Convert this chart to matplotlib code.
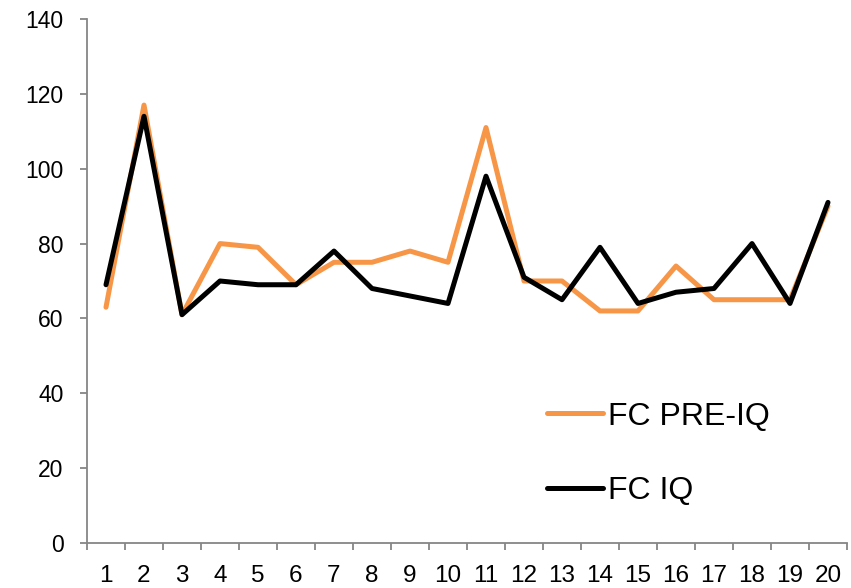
import matplotlib
matplotlib.use("Agg")
import matplotlib.pyplot as plt

plt.rcParams['font.family'] = ['Liberation Sans', 'DejaVu Sans']

categories = [str(i) for i in range(1, 21)]
fc_pre_iq = [63, 117, 61, 80, 79, 69, 75, 75, 78, 75, 111, 70, 70, 62, 62, 74, 65, 65, 65, 90]
fc_iq = [69, 114, 61, 70, 69, 69, 78, 68, 66, 64, 98, 71, 65, 79, 64, 67, 68, 80, 64, 91]
y_ticks = [0, 20, 40, 60, 80, 100, 120, 140]

fig = plt.figure(figsize=(8.51, 5.88), dpi=100)
ax = fig.add_axes([87/851, 45/588, 760/851, 524/588])

x = list(range(len(categories)))
ax.plot(x, fc_pre_iq, color='#F79646', lw=3.6, label='FC PRE-IQ', solid_joinstyle='round', solid_capstyle='round')
ax.plot(x, fc_iq, color='#000000', lw=3.6, label='FC IQ', solid_joinstyle='round', solid_capstyle='round')

ax.set_xlim(-0.5, len(categories) - 0.5)
ax.set_ylim(0, 140)
ax.set_yticks(y_ticks)
ax.set_yticklabels([str(v) for v in y_ticks], fontsize=16.5)
ax.set_xticks(x)
ax.set_xticklabels(categories, fontsize=17.5, fontstretch='condensed')
ax.set_xticks([i - 0.5 for i in range(len(categories) + 1)], minor=True)
ax.tick_params(axis='x', which='major', length=0, pad=16)
ax.tick_params(axis='x', which='minor', length=5, color='#868686', width=1.3)
ax.tick_params(axis='y', length=5, color='#868686', width=1.3, pad=12)

for s in ['top', 'right']:
    ax.spines[s].set_visible(False)
for s in ['left', 'bottom']:
    ax.spines[s].set_color('#868686')
    ax.spines[s].set_linewidth(1.3)

leg = ax.legend(loc='upper left', bbox_to_anchor=(0.605, 0.27), frameon=False,
                fontsize=23, handlelength=1.75, handletextpad=0.16, labelspacing=1.4,
                borderpad=0, borderaxespad=0)
fig.savefig('out.png', dpi=100)
